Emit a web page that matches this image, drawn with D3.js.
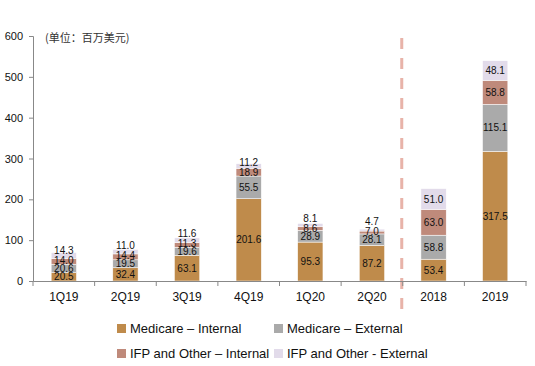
<!DOCTYPE html>
<html>
<head>
<meta charset="utf-8">
<script src="https://cdn.jsdelivr.net/npm/d3@7"></script>
<style>
  body { margin: 0; background: #fff; }
  text { font-family: "Liberation Sans", Arial, sans-serif; }
</style>
</head>
<body>
<svg id="chart"></svg>
<script>
// periods on the x axis
var categories = ["1Q19", "2Q19", "3Q19", "4Q19", "1Q20", "2Q20", "2018", "2019"];
var seriesNames = ["Medicare – Internal", "Medicare – External", "IFP and Other – Internal", "IFP and Other - External"];
var medicareInternal = [20.5, 32.4, 63.1, 201.6, 95.3, 87.2, 53.4, 317.5];
var medicareExternal = [20.6, 19.5, 19.6, 55.5, 28.9, 28.1, 58.8, 115.1];
var ifpInternal = [14.0, 14.4, 11.3, 18.9, 8.6, 7.0, 63.0, 58.8];
var ifpExternal = [14.3, 11.0, 11.6, 11.2, 8.1, 4.7, 51.0, 48.1];
var yTicks = [0, 100, 200, 300, 400, 500, 600];

var colors = ["#bf8b4b", "#aaaaaa", "#bf8a7b", "#e2dbea"];

var width = 535, height = 366;
var margin = { top: 36, left: 33, right: 9, bottom: 85 };

var svg = d3.select("#chart").attr("width", width).attr("height", height);

var x = d3.scaleBand()
  .domain(categories)
  .range([margin.left, width - margin.right])
  .paddingInner(0.59)
  .paddingOuter(0.295);

var y = d3.scaleLinear()
  .domain([0, 600])
  .range([height - margin.bottom, margin.top]);

var rows = categories.map(function (c, i) {
  return { cat: c, s0: medicareInternal[i], s1: medicareExternal[i], s2: ifpInternal[i], s3: ifpExternal[i] };
});
var stack = d3.stack().keys(["s0", "s1", "s2", "s3"]);
var layers = stack(rows);

// dashed divider between quarters and years
var step = x.step();
var divX = x("2018") - (step - x.bandwidth()) / 2 - 1;
svg.append("line")
  .attr("x1", divX).attr("x2", divX)
  .attr("y1", 38).attr("y2", 318)
  .attr("stroke", "#e8b3a9")
  .attr("stroke-width", 3)
  .attr("stroke-dasharray", "11,9");

// bars
svg.selectAll("g.layer")
  .data(layers)
  .join("g")
  .attr("class", "layer")
  .attr("fill", function (d, i) { return colors[i]; })
  .selectAll("rect")
  .data(function (d) { return d; })
  .join("rect")
  .attr("x", function (d) { return x(d.data.cat); })
  .attr("y", function (d) { return y(d[1]); })
  .attr("width", x.bandwidth())
  .attr("height", function (d) { return y(d[0]) - y(d[1]); })
  .attr("stroke", "#fff")
  .attr("stroke-width", 0.5);

// labels: centred in segment, pushed up when they would collide
categories.forEach(function (c, i) {
  var prev = null;
  layers.forEach(function (layer, k) {
    var d = layer[i];
    var cy = (y(d[0]) + y(d[1])) / 2;
    if (prev !== null) {
      var gap = (k === layers.length - 1) ? 10 : 8;
      cy = Math.min(cy, prev - gap);
    }
    prev = cy;
    svg.append("text")
      .attr("x", x(c) + x.bandwidth() / 2)
      .attr("y", cy)
      .attr("dy", "0.35em")
      .attr("text-anchor", "middle")
      .style("font-size", "10px")
      .attr("fill", "#111")
      .text((d[1] - d[0]).toFixed(1));
  });
});

// y axis
var yAxis = svg.append("g")
  .attr("transform", "translate(" + margin.left + ",0)")
  .call(d3.axisLeft(y).tickValues(yTicks).tickSize(4).tickPadding(6));
yAxis.select(".domain").attr("stroke", "#888");
yAxis.selectAll(".tick line").attr("stroke", "#888");
yAxis.selectAll(".tick text")
  .style("font-size", "11px")
  .style("font-family", "Liberation Sans, Arial, sans-serif")
  .attr("fill", "#111");

// x axis
var xAxis = svg.append("g")
  .attr("transform", "translate(0," + y(0) + ")")
  .call(d3.axisBottom(x).tickSize(0).tickPadding(11));
xAxis.select(".domain").attr("stroke", "#888");
xAxis.selectAll(".tick text")
  .style("font-size", "12px")
  .style("font-family", "Liberation Sans, Arial, sans-serif")
  .attr("fill", "#111");
var bounds = categories.map(function (c) { return x(c) - (step - x.bandwidth()) / 2; });
bounds.push(bounds[bounds.length - 1] + step);
xAxis.selectAll("line.bound")
  .data(bounds)
  .join("line")
  .attr("class", "bound")
  .attr("x1", function (d) { return d; })
  .attr("x2", function (d) { return d; })
  .attr("y1", 0).attr("y2", 5)
  .attr("stroke", "#888");

// unit note
svg.append("text")
  .attr("x", 45).attr("y", 42)
  .style("font-family", "Noto Sans CJK SC, sans-serif")
  .style("font-size", "11px")
  .attr("fill", "#333")
  .text("(单位：百万美元)");

// legend
var legendPos = [[117, 324], [274, 324], [117, 349], [274, 349]];
var legend = svg.selectAll("g.legend")
  .data(seriesNames)
  .join("g")
  .attr("class", "legend")
  .attr("transform", function (d, i) { return "translate(" + legendPos[i][0] + "," + legendPos[i][1] + ")"; });
legend.append("rect")
  .attr("width", 9).attr("height", 9)
  .attr("fill", function (d, i) { return colors[i]; });
legend.append("text")
  .attr("x", 13).attr("y", 4.5)
  .attr("dy", "0.35em")
  .style("font-size", "13px")
  .attr("fill", "#111")
  .text(function (d) { return d; });
</script>
</body>
</html>
